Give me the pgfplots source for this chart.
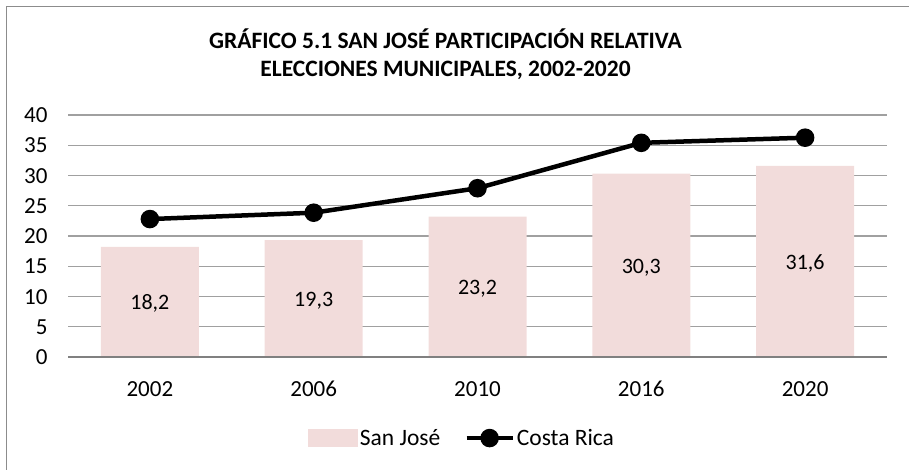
\documentclass[border=0pt]{standalone}
\usepackage{fontspec}
\setmainfont{Carlito}
\usepackage{pgfplots}
\pgfplotsset{compat=1.18}
\usepackage{pgfplotstable}
\definecolor{sjcol}{HTML}{F2DCDB}
\definecolor{gridc}{HTML}{A0A0A0}
\definecolor{framec}{HTML}{8C8C8C}
\pgfplotstableread{
x year sj cr
0 2002 18.2 22.8
1 2006 19.3 23.85
2 2010 23.2 27.9
3 2016 30.3 35.4
4 2020 31.6 36.25
}\datatab
\begin{document}
\begin{tikzpicture}
\useasboundingbox (0,0) rectangle (909bp,470bp);
\draw[framec, line width=1.5bp] (6.5bp,0) -- (6.5bp,463.5bp) -- (909bp,463.5bp);
\begin{axis}[
  at={(68bp,113bp)}, anchor=south west,
  scale only axis, width=819bp, height=242bp,
  xmin=-0.5, xmax=4.5, ymin=0, ymax=40,
  ytick={0,5,...,40},
  xtick={0,1,2,3,4},
  xticklabels={2002,2006,2010,2016,2020},
  /pgf/number format/assume math mode=true,
  tick label style={font=\fontsize{23bp}{27bp}\selectfont},
  yticklabel style={xshift=-17bp, text height=15bp, text depth=0bp},
  xticklabel style={anchor=base, yshift=-39bp},
  major tick length=0pt,
  axis line style={draw=none},
  ymajorgrids, grid style={gridc, line width=1.4bp},
  clip=false,
  legend style={at={(0.481,-0.335)}, anchor=center, draw=none, fill=none,
    legend columns=2, font=\fontsize{23.5bp}{27bp}\selectfont,
    /tikz/every even column/.append style={column sep=22bp},
    inner sep=0pt},
]
\addplot[ybar, bar width=98bp, fill=sjcol, draw=none,
  legend image code/.code={\fill[sjcol] (0bp,-9bp) rectangle (50bp,9bp);}]
  table[x=x, y=sj] {\datatab};
\addlegendentry{San José}
\draw[gridc!80!black, line width=1.4bp] (axis cs:-0.5,0) -- (axis cs:4.5,0);
\addplot[black, line width=4.5bp, mark=*, mark size=7bp,
  legend image code/.code={\draw[black, line width=4.5bp] (0bp,0bp)--(46bp,0bp); \fill[black] (23bp,0bp) circle (7bp);}]
  table[x=x, y=cr] {\datatab};
\addlegendentry{Costa Rica}
\addplot[draw=none, mark=none, forget plot,
  point meta=explicit,
  nodes near coords={\pgfmathprintnumber[use comma, fixed, fixed zerofill, precision=1]{\pgfplotspointmeta}},
  every node near coord/.append style={anchor=base, yshift=-8bp, font=\fontsize{22bp}{26bp}\selectfont, text=black}]
  table[x=x, y expr=\thisrow{sj}/2, meta=sj] {\datatab};
\end{axis}
\node[align=center, font=\bfseries\fontsize{23.5bp}{28.3bp}\selectfont] at (445.5bp,416bp)
  {GRÁFICO 5.1 SAN JOSÉ PARTICIPACIÓN RELATIVA\\ELECCIONES MUNICIPALES, 2002-2020};
\end{tikzpicture}
\end{document}
